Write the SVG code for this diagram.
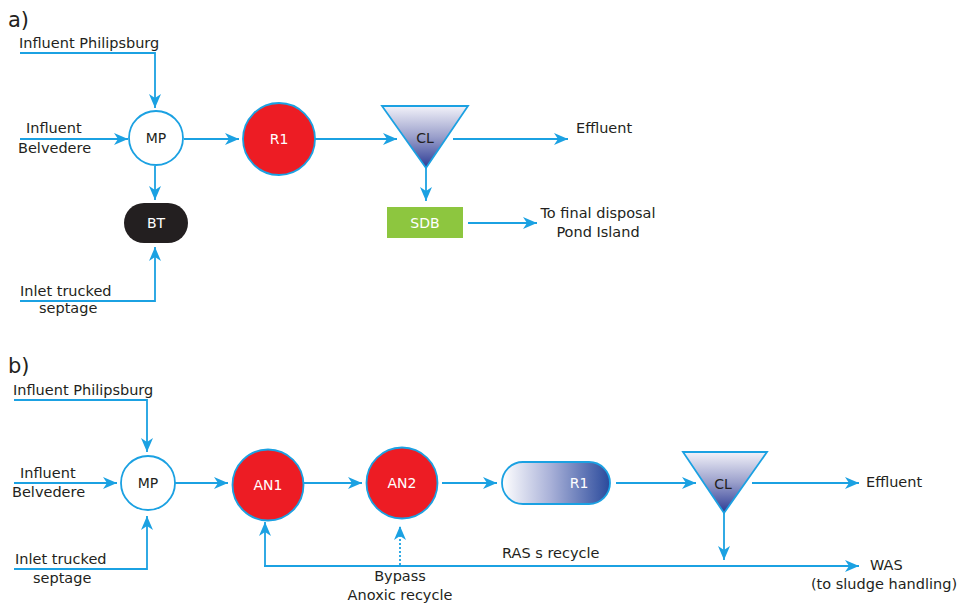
<svg xmlns="http://www.w3.org/2000/svg" width="965" height="604" viewBox="0 0 965 604">
<style>
.ln{fill:none;stroke:#1BA1E2;stroke-width:1.8}
.dot{fill:none;stroke:#1BA1E2;stroke-width:1.8;stroke-dasharray:2 2}
.t{font-family:"DejaVu Sans",Verdana,sans-serif;font-size:14.5px;fill:#231F20}
.n{font-family:"DejaVu Sans",Verdana,sans-serif;font-size:14px;text-anchor:middle}
.w{fill:#FFFFFF}
.k{fill:#231F20}
.mid{text-anchor:middle}
.hd{font-family:"DejaVu Sans",Verdana,sans-serif;font-size:21px;fill:#231F20}
</style>
<defs>
<marker id="ar" viewBox="0 0 14 12" refX="14" refY="6" markerWidth="14" markerHeight="12" markerUnits="userSpaceOnUse" orient="auto">
<path d="M0,0 L14,6 L0,12 L4,6 z" fill="#1BA1E2"/>
</marker>
<linearGradient id="tri" x1="0" y1="0" x2="0" y2="1">
<stop offset="0" stop-color="#F2F2F9"/>
<stop offset="0.5" stop-color="#9A9FCB"/>
<stop offset="1" stop-color="#2B3A94"/>
</linearGradient>
<linearGradient id="pill" x1="0" y1="0" x2="1" y2="0">
<stop offset="0" stop-color="#FFFFFF"/>
<stop offset="0.45" stop-color="#A9B1D8"/>
<stop offset="1" stop-color="#2A4A9C"/>
</linearGradient>
</defs>

<text class="hd" x="8" y="27">a)</text>
<text class="hd" x="8" y="373">b)</text>

<g id="connectors">
<!-- part a -->
<polyline class="ln" points="20,53 155,53 155,108" marker-end="url(#ar)"/>
<line class="ln" x1="20" y1="139" x2="128" y2="139" marker-end="url(#ar)"/>
<line class="ln" x1="184" y1="139" x2="239" y2="139" marker-end="url(#ar)"/>
<line class="ln" x1="315" y1="139" x2="397" y2="139" marker-end="url(#ar)"/>
<line class="ln" x1="453" y1="139" x2="568" y2="139" marker-end="url(#ar)"/>
<line class="ln" x1="426" y1="168" x2="426" y2="201" marker-end="url(#ar)"/>
<line class="ln" x1="468" y1="223" x2="537" y2="223" marker-end="url(#ar)"/>
<line class="ln" x1="155" y1="166" x2="155" y2="200" marker-end="url(#ar)"/>
<polyline class="ln" points="20,301 155,301 155,247" marker-end="url(#ar)"/>
<!-- part b -->
<polyline class="ln" points="14,400 147,400 147,452" marker-end="url(#ar)"/>
<line class="ln" x1="14" y1="483" x2="117" y2="483" marker-end="url(#ar)"/>
<polyline class="ln" points="14,569 147,569 147,516" marker-end="url(#ar)"/>
<line class="ln" x1="175" y1="483" x2="228" y2="483" marker-end="url(#ar)"/>
<line class="ln" x1="304" y1="483" x2="362" y2="483" marker-end="url(#ar)"/>
<line class="ln" x1="442" y1="483" x2="497" y2="483" marker-end="url(#ar)"/>
<line class="ln" x1="616" y1="483" x2="696" y2="483" marker-end="url(#ar)"/>
<line class="ln" x1="752" y1="483" x2="859" y2="483" marker-end="url(#ar)"/>
<line class="ln" x1="724" y1="513" x2="724" y2="560" marker-end="url(#ar)"/>
<line class="ln" x1="264" y1="566" x2="859" y2="566" marker-end="url(#ar)"/>
<line class="ln" x1="265" y1="566" x2="265" y2="522" marker-end="url(#ar)"/>
<line class="dot" x1="400" y1="565" x2="400" y2="526" marker-end="url(#ar)"/>
</g>

<!-- part a nodes -->
<g id="mp-a">
<circle cx="156" cy="138" r="27" fill="#FFFFFF" stroke="#1BA1E2" stroke-width="1.8"/>
<text class="n k" x="156" y="143">MP</text>
</g>
<g id="r1-a">
<circle cx="279" cy="139" r="36" fill="#ED1C24" stroke="#1BA1E2" stroke-width="1.8"/>
<text class="n w" x="279" y="144">R1</text>
</g>
<g id="cl-a">
<polygon points="382,106 468,106 426,168" fill="url(#tri)" stroke="#1BA1E2" stroke-width="1.8"/>
<text class="n k" x="425" y="143">CL</text>
</g>
<g id="sdb-a">
<rect x="387" y="207" width="76" height="31" fill="#8DC63F"/>
<text class="n w" x="425" y="228">SDB</text>
</g>
<g id="bt-a">
<rect x="124" y="203" width="64" height="40" rx="20" fill="#231F20"/>
<text class="n w" x="156" y="228">BT</text>
</g>

<!-- part b nodes -->
<g id="mp-b">
<circle cx="148" cy="483" r="27" fill="#FFFFFF" stroke="#1BA1E2" stroke-width="1.8"/>
<text class="n k" x="148" y="488">MP</text>
</g>
<g id="an1-b">
<circle cx="268" cy="485" r="35.5" fill="#ED1C24" stroke="#1BA1E2" stroke-width="1.8"/>
<text class="n w" x="268" y="490">AN1</text>
</g>
<g id="an2-b">
<circle cx="402" cy="483" r="35.5" fill="#ED1C24" stroke="#1BA1E2" stroke-width="1.8"/>
<text class="n w" x="402" y="488">AN2</text>
</g>
<g id="r1-b">
<rect x="502" y="462" width="108" height="42" rx="21" fill="url(#pill)" stroke="#1BA1E2" stroke-width="1.8"/>
<text class="n w" x="579" y="488">R1</text>
</g>
<g id="cl-b">
<polygon points="683,452 767,452 724,513" fill="url(#tri)" stroke="#1BA1E2" stroke-width="1.8"/>
<text class="n k" x="723" y="489">CL</text>
</g>

<!-- labels a -->
<g id="labels-a">
<text class="t" x="19" y="48">Influent Philipsburg</text>
<text class="t" x="26" y="133">Influent</text>
<text class="t" x="18" y="153">Belvedere</text>
<text class="t" x="20" y="296">Inlet trucked</text>
<text class="t" x="39" y="313">septage</text>
<text class="t" x="576" y="133">Effluent</text>
<text class="t mid" x="598" y="218">To final disposal</text>
<text class="t mid" x="598" y="237">Pond Island</text>
</g>
<!-- labels b -->
<g id="labels-b">
<text class="t" x="13" y="395">Influent Philipsburg</text>
<text class="t" x="20" y="478">Influent</text>
<text class="t" x="12" y="497">Belvedere</text>
<text class="t" x="15" y="564">Inlet trucked</text>
<text class="t" x="33" y="583">septage</text>
<text class="t" x="866" y="487">Effluent</text>
<text class="t" x="502" y="558">RAS s recycle</text>
<text class="t mid" x="400" y="581">Bypass</text>
<text class="t mid" x="400" y="600">Anoxic recycle</text>
<text class="t" x="870" y="570">WAS</text>
<text class="t mid" x="884" y="589">(to sludge handling)</text>
</g>
</svg>
